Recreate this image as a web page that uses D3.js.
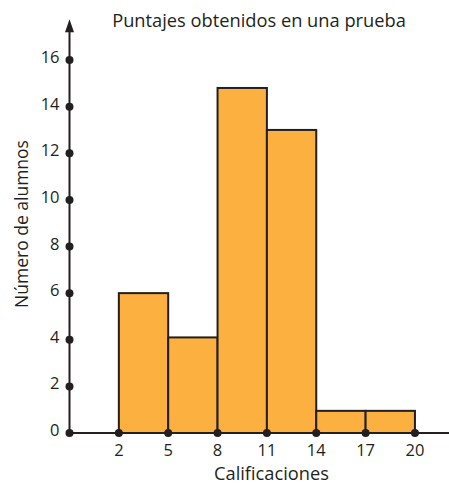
<!DOCTYPE html>
<html><head><meta charset="utf-8">
<script src="https://cdn.jsdelivr.net/npm/d3@7/dist/d3.min.js"></script>
<style>body{margin:0;background:#fff}svg{display:block}text{font-family:"Open Sans",sans-serif;fill:#231f20}</style>
</head><body>
<script>
const binStarts = [2, 5, 8, 11, 14, 17];
const binEnds = [5, 8, 11, 14, 17, 20];
const counts = [6, 4.1, 14.8, 13, 0.95, 0.95];
const yTicks = [0, 2, 4, 6, 8, 10, 12, 14, 16];
const xTicks = [2, 5, 8, 11, 14, 17, 20];
const title = "Puntajes obtenidos en una prueba";
const xTitle = "Calificaciones";
const yTitle = "Número de alumnos";

const W = 449, H = 485;
const svg = d3.select("body").append("svg").attr("width", W).attr("height", H);
const x = d3.scaleLinear().domain([-1, 22.1]).range([69.5, 449.5]);
const y = d3.scaleLinear().domain([0, 16]).range([433, 60]);
const ink = "#231f20";

// bars
svg.selectAll("rect.bar").data(counts).join("rect").attr("class", "bar")
  .attr("x", (d, i) => x(binStarts[i]))
  .attr("width", (d, i) => x(binEnds[i]) - x(binStarts[i]))
  .attr("y", d => y(d))
  .attr("height", d => y(0) - y(d))
  .attr("fill", "#fbb040").attr("stroke", ink).attr("stroke-width", 2);

// x axis line
svg.append("line").attr("x1", x(-1)).attr("x2", W).attr("y1", y(0)).attr("y2", y(0))
  .attr("stroke", ink).attr("stroke-width", 2);
// y axis line
svg.append("line").attr("x1", x(-1)).attr("x2", x(-1)).attr("y1", y(0)).attr("y2", y(17.3))
  .attr("stroke", ink).attr("stroke-width", 2);
// arrow
const ax = x(-1), at = y(17.75);
svg.append("path").attr("d", `M${ax},${at} L${ax-4.5},${at+13} L${ax+4.5},${at+13} Z`).attr("fill", ink);

// y ticks
svg.selectAll("circle.yt").data(yTicks).join("circle").attr("class", "yt")
  .attr("cx", x(-1)).attr("cy", d => y(d)).attr("r", 4).attr("fill", ink);
svg.selectAll("text.yl").data(yTicks).join("text").attr("class", "yl")
  .attr("x", x(-1) - 10).attr("y", d => y(d) + 3).attr("text-anchor", "end")
  .attr("font-size", 16.5).text(d => d);

// x ticks
svg.selectAll("circle.xt").data(xTicks).join("circle").attr("class", "xt")
  .attr("cx", d => x(d)).attr("cy", y(0)).attr("r", 4).attr("fill", ink);
svg.selectAll("text.xl").data(xTicks).join("text").attr("class", "xl")
  .attr("x", d => x(d)).attr("y", 456).attr("text-anchor", "middle")
  .attr("font-size", 16.5).text(d => d);

function fit(t, target, base) {
  const w = t.node().getComputedTextLength();
  t.attr("font-size", base * target / w);
}
const tt = svg.append("text").attr("x", 259).attr("y", 26.5).attr("text-anchor", "middle")
  .attr("font-size", 18).text(title);
fit(tt, 294, 18);
const xt = svg.append("text").attr("x", 271.5).attr("y", 480).attr("text-anchor", "middle")
  .attr("font-size", 17).text(xTitle);
fit(xt, 115, 17);
const yt = svg.append("text").attr("transform", "translate(28,224) rotate(-90)")
  .attr("text-anchor", "middle").attr("font-size", 17).text(yTitle);
fit(yt, 168, 17);
</script>
</body></html>
